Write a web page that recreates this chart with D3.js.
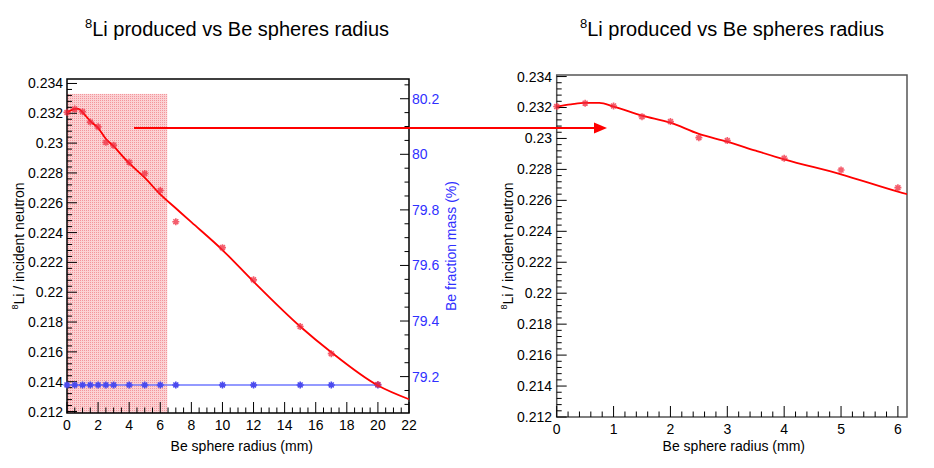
<!DOCTYPE html>
<html>
<head>
<meta charset="utf-8">
<script src="https://cdn.jsdelivr.net/npm/d3@7"></script>
<style>
  body { margin: 0; background: #fff; }
  text { font-family: "Liberation Sans", Arial, sans-serif; }
</style>
</head>
<body>
<svg id="chart" width="934" height="468"></svg>
<script>
// Be sphere radius (mm) of each simulated point
const radius = [0, 0.5, 1, 1.5, 2, 2.5, 3, 4, 5, 6, 7, 10, 12, 15, 17, 20];
// 8Li produced per incident neutron
const liYield = [0.23206, 0.23228, 0.23210, 0.23141, 0.23109, 0.23005, 0.22986, 0.22872,
                 0.22796, 0.22682, 0.22473, 0.22299, 0.22083, 0.21770, 0.21588, 0.21381];
// Be fraction mass (%)
const beFraction = [79.17, 79.17, 79.17, 79.17, 79.17, 79.17, 79.17, 79.17,
                    79.17, 79.17, 79.17, 79.17, 79.17, 79.17, 79.17, 79.17];
// fit curve
const fitX = [0, 0.25, 0.5, 0.75, 1, 1.5, 2, 2.5, 3, 3.5, 4, 5, 6, 7, 8, 10, 12, 15, 17, 20, 22];
const fitY = [0.23206, 0.2322, 0.2323, 0.2323, 0.23206, 0.23148, 0.23102, 0.23029, 0.22979,
              0.22921, 0.22865, 0.22768, 0.22656, 0.22563, 0.2247, 0.22283, 0.22071,
              0.2177, 0.21597, 0.21374, 0.21282];
// shaded zoom region (mm, yield)
const zoomBox = [6.45, 0.2333];
const yTicks = [0.212, 0.214, 0.216, 0.218, 0.22, 0.222, 0.224, 0.226, 0.228, 0.23, 0.232, 0.234];
const rightTicks = [79.2, 79.4, 79.6, 79.8, 80, 80.2];
const titleText = "Li produced vs Be spheres radius";

const svg = d3.select('#chart');
const red = '#ff0000', blue = '#3030ff';

// dotted fill for the zoom region
const defs = svg.append('defs');
const pat = defs.append('pattern').attr('id', 'dots')
  .attr('width', 2).attr('height', 2).attr('patternUnits', 'userSpaceOnUse');
pat.append('rect').attr('width', 2).attr('height', 2).attr('fill', '#fbd2d4');
pat.append('rect').attr('width', 1).attr('height', 1).attr('fill', '#f3959b');
defs.append('clipPath').attr('id', 'clipR').append('rect')
  .attr('x', 556.7).attr('y', 75).attr('width', 350.3).attr('height', 342);

function star(g, x, y, color, r) {
  const d = `M${x - r},${y}L${x + r},${y}M${x},${y - r}L${x},${y + r}` +
            `M${x - r * .7},${y - r * .7}L${x + r * .7},${y + r * .7}M${x - r * .7},${y + r * .7}L${x + r * .7},${y - r * .7}`;
  g.append('path').attr('d', d).attr('stroke', color).attr('stroke-width', 1.6).attr('fill', 'none');
}

// ticks drawn inside the frame like ROOT
function ticksY(g, y, x0, dir, major, minorStep, lo, hi, len) {
  for (let v = lo; v <= hi + 1e-9; v += minorStep) {
    const isMajor = major.some(m => Math.abs(m - v) < minorStep / 10);
    g.append('line').attr('x1', x0).attr('x2', x0 + dir * (isMajor ? len : len / 2))
      .attr('y1', y(v)).attr('y2', y(v)).attr('stroke', '#000').attr('stroke-width', 1);
  }
}
function ticksX(g, x, y0, major, minorStep, lo, hi, len) {
  for (let v = lo; v <= hi + 1e-9; v += minorStep) {
    const isMajor = major.some(m => Math.abs(m - v) < minorStep / 10);
    g.append('line').attr('y1', y0).attr('y2', y0 - (isMajor ? len : len / 2))
      .attr('x1', x(v)).attr('x2', x(v)).attr('stroke', '#000').attr('stroke-width', 1);
  }
}
function title(cx) {
  const t = svg.append('text').attr('x', cx).attr('y', 36).attr('text-anchor', 'middle')
    .attr('font-size', 20);
  t.append('tspan').attr('font-size', 13).attr('dy', -8).text('8');
  t.append('tspan').attr('dy', 8).text(titleText);
}
function yLabel(x, cy) {
  const t = svg.append('text').attr('transform', `translate(${x},${cy}) rotate(-90)`)
    .attr('text-anchor', 'middle').attr('font-size', 14);
  t.append('tspan').attr('font-size', 9).attr('dy', -6).text('8');
  t.append('tspan').attr('dy', 6).text('Li / incident neutron');
}

// ---------- left panel ----------
const xL = d3.scaleLinear().domain([0, 22]).range([67, 409]);
const yL = d3.scaleLinear().domain([0.2119, 0.2343]).range([413, 79]);
const yB = d3.scaleLinear().domain([79.069, 80.271]).range([413, 79]);
const L = svg.append('g');

L.append('rect').attr('x', xL(0)).attr('y', yL(zoomBox[1]))
  .attr('width', xL(zoomBox[0]) - xL(0)).attr('height', yL(0.2119) - yL(zoomBox[1]))
  .attr('fill', 'url(#dots)');

L.append('rect').attr('x', 67).attr('y', 79).attr('width', 342).attr('height', 334)
  .attr('fill', 'none').attr('stroke', '#000').attr('stroke-width', 1.5);

ticksY(L, yL, 67, 1, yTicks, 0.0004, 0.212, 0.234, 10);
ticksY(L, yB, 409, -1, rightTicks, 0.05, 79.1, 80.25, 9);
ticksX(L, xL, 413, d3.range(0, 23, 2), 0.5, 0, 22, 11);

L.selectAll('.yl').data(yTicks).join('text')
  .attr('x', 63).attr('y', d => yL(d) + 5).attr('text-anchor', 'end').attr('font-size', 14)
  .text(d => d3.format('~g')(d));
L.selectAll('.yr').data(rightTicks).join('text')
  .attr('x', 412).attr('y', d => yB(d) + 5).attr('font-size', 14).attr('fill', blue)
  .text(d => d3.format('~g')(d));
L.selectAll('.xl').data(d3.range(0, 23, 2)).join('text')
  .attr('x', d => xL(d)).attr('y', 430).attr('text-anchor', 'middle').attr('font-size', 14)
  .text(d => d);

// blue series
L.append('path').datum(radius.map((r, i) => [r, beFraction[i]]))
  .attr('d', d3.line().x(d => xL(d[0])).y(d => yB(d[1])))
  .attr('fill', 'none').attr('stroke', '#6f78ff').attr('stroke-width', 1.5);
radius.forEach((r, i) => star(L, xL(r), yB(beFraction[i]), '#4a4aee', 3.5));

// red series
L.append('path').datum(fitX.map((x, i) => [x, fitY[i]]))
  .attr('d', d3.line().curve(d3.curveMonotoneX).x(d => xL(d[0])).y(d => yL(d[1])))
  .attr('fill', 'none').attr('stroke', red).attr('stroke-width', 1.8);
radius.forEach((r, i) => star(L, xL(r), yL(liYield[i]), 'rgba(240,40,60,0.75)', 3.5));

title(237);
yLabel(24, 246);
svg.append('text').attr('transform', 'translate(456,246) rotate(-90)').attr('text-anchor', 'middle')
  .attr('font-size', 14).attr('fill', blue).text('Be fraction mass (%)');
svg.append('text').attr('x', 313).attr('y', 451).attr('text-anchor', 'end').attr('font-size', 14)
  .text('Be sphere radius (mm)');

// ---------- right panel ----------
const xR = d3.scaleLinear().domain([0, 6.16]).range([556.7, 907]);
const yR = d3.scaleLinear().domain([0.212, 0.2341]).range([417, 75]);
const R = svg.append('g');

R.append('rect').attr('x', 556.7).attr('y', 75).attr('width', 350.3).attr('height', 342)
  .attr('fill', 'none').attr('stroke', '#555').attr('stroke-width', 1.5);
ticksY(R, yR, 556.7, 1, yTicks, 0.0004, 0.212, 0.234, 10);
ticksX(R, xR, 417, d3.range(0, 7), 0.2, 0, 6.1, 11);

R.selectAll('.yl').data(yTicks).join('text')
  .attr('x', 552).attr('y', d => yR(d) + 5).attr('text-anchor', 'end').attr('font-size', 14)
  .text(d => d3.format('~g')(d));
R.selectAll('.xl').data(d3.range(0, 7)).join('text')
  .attr('x', d => xR(d)).attr('y', 434).attr('text-anchor', 'middle').attr('font-size', 14)
  .text(d => d);

R.append('path').datum(fitX.map((x, i) => [x, fitY[i]]))
  .attr('clip-path', 'url(#clipR)')
  .attr('d', d3.line().curve(d3.curveMonotoneX).x(d => xR(d[0])).y(d => yR(d[1])))
  .attr('fill', 'none').attr('stroke', red).attr('stroke-width', 1.8);
radius.filter(r => r <= 6).forEach((r, i) => star(R, xR(r), yR(liYield[i]), 'rgba(240,40,60,0.75)', 3.5));

title(732);
yLabel(513, 246);
svg.append('text').attr('x', 805).attr('y', 451).attr('text-anchor', 'end').attr('font-size', 14)
  .text('Be sphere radius (mm)');

// arrow from the shaded region to the zoomed panel
svg.append('line').attr('x1', 134).attr('x2', 596).attr('y1', 128).attr('y2', 128)
  .attr('stroke', red).attr('stroke-width', 2);
svg.append('path').attr('d', 'M594,122.5L607,128L594,133.5Z').attr('fill', red);
</script>
</body>
</html>
